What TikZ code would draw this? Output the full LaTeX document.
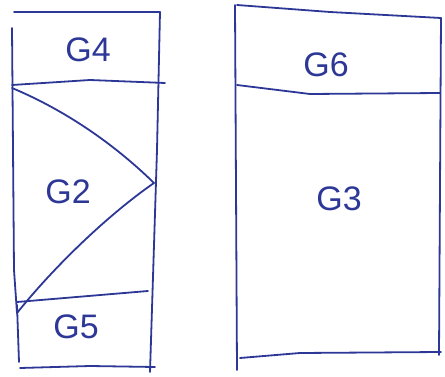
\documentclass[tikz,border=0pt]{standalone}
\usepackage{fontspec}
\setsansfont{Liberation Sans}
\usepackage{tikz}
\usetikzlibrary{calc,positioning}
\definecolor{pen}{RGB}{45,55,150}

\begin{document}
\begin{tikzpicture}[x=1pt,y=-1pt,
	stroke/.style={draw=pen,line width=1.8pt,line cap=round,line join=round},
	label/.style={text=pen,font=\sffamily\fontsize{34}{36}\selectfont,inner sep=0pt}
	]
\useasboundingbox (0,0) rectangle (445,377);
% left column
\draw [stroke] (14,12) -- (160,12);
\draw [stroke] (12,28) -- (14,270) -- (17,313);
\draw [stroke] (160,12) -- (157,150) -- (150,372);
\draw [stroke] (12,85) -- (90,80) -- (165,83);
\draw [stroke] (17,302) -- (148,291);
\draw [stroke] (17,305) -- (19,362);
\draw [stroke] (20,368) -- (90,366) -- (155,367);
% split of the middle part
\coordinate (tip) at (154,183);
\draw [stroke] (12,88) .. controls (60,108) and (110,140) .. (tip);
\draw [stroke] (tip) .. controls (112,212) and (58,262) .. (17,313);

% right column
\draw [stroke] (235,5) -- (237,370);
\draw [stroke] (237,5) -- (330,12) -- (441,18);
\draw [stroke] (441,18) -- (439,355);
\draw [stroke] (237,85) -- (310,94) -- (440,93);
\draw [stroke] (240,358) -- (300,353) -- (441,352);

% names
\node [label] (g4) at (88,50) {G4};
\node [label] (g2) at (68,192) {G2};
\node [label] (g5) at (76,327) {G5};
\node [label] (g6) at (326,65) {G6};
\node [label] (g3) at (339,199) {G3};
\end{tikzpicture}
\end{document}
